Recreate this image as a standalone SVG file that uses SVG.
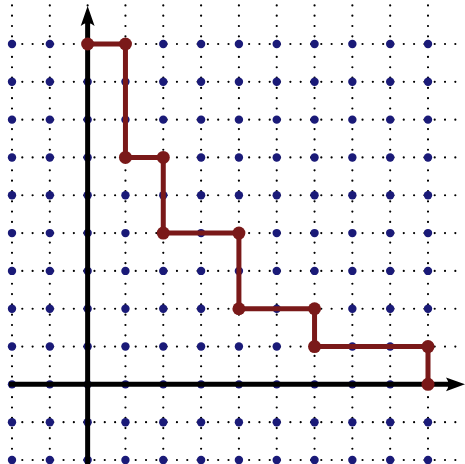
<svg xmlns="http://www.w3.org/2000/svg" xmlns:xlink="http://www.w3.org/1999/xlink" width="465" height="464" viewBox="0 0 465 464">
<style>
.dot{stroke:#000;stroke-width:2.2;stroke-linecap:round;stroke-dasharray:0 10.31;fill:none}
.g{fill:#1a1a78}
.axis{stroke:#000;stroke-width:5;fill:none}
.path{stroke:#7a1919;stroke-width:5;fill:none;stroke-linejoin:round}
.rn{fill:#7a1919}
</style>
<defs>
<circle id="b" r="4.2" class="g"/>
<circle id="r" r="6.5" class="rn"/>
<g id="row">
<use xlink:href="#b" x="12"/><use xlink:href="#b" x="49.82"/><use xlink:href="#b" x="87.64"/><use xlink:href="#b" x="125.45"/><use xlink:href="#b" x="163.27"/><use xlink:href="#b" x="201.09"/><use xlink:href="#b" x="238.91"/><use xlink:href="#b" x="276.73"/><use xlink:href="#b" x="314.55"/><use xlink:href="#b" x="352.36"/><use xlink:href="#b" x="390.18"/><use xlink:href="#b" x="428"/>
</g>
</defs>
<g id="dotted-grid">
<path class="dot" d="M12 44H462M12 81.82H462M12 119.64H462M12 157.45H462M12 195.27H462M12 233.09H462M12 270.91H462M12 308.73H462M12 346.55H462M12 384.36H462M12 422.18H462M12 460H462"/>
<path class="dot" d="M12 5.4V464M49.82 5.4V464M87.64 5.4V464M125.45 5.4V464M163.27 5.4V464M201.09 5.4V464M238.91 5.4V464M276.73 5.4V464M314.55 5.4V464M352.36 5.4V464M390.18 5.4V464M428 5.4V464"/>
</g>
<g id="lattice-points">
<use xlink:href="#row" y="44"/><use xlink:href="#row" y="81.82"/><use xlink:href="#row" y="119.64"/><use xlink:href="#row" y="157.45"/><use xlink:href="#row" y="195.27"/><use xlink:href="#row" y="233.09"/><use xlink:href="#row" y="270.91"/><use xlink:href="#row" y="308.73"/><use xlink:href="#row" y="346.55"/><use xlink:href="#row" y="384.36"/><use xlink:href="#row" y="422.18"/><use xlink:href="#row" y="460"/>
</g>
<g id="axes">
<line class="axis" x1="9" y1="384.36" x2="455" y2="384.36"/>
<line class="axis" x1="87.64" y1="464" x2="87.64" y2="16"/>
<path d="M465 384.36 L446 377.4 Q451 384.36 446 391.3 Z" fill="#000"/>
<path d="M87.64 6 L80.7 26 Q87.64 20 94.6 26 Z" fill="#000"/>
</g>
<g id="lattice-path">
<path class="path" d="M87.64 44H125.45V157.45H163.27V233.09H238.91V308.73H314.55V346.55H428V384.36"/>
<use xlink:href="#r" x="87.64" y="44"/><use xlink:href="#r" x="125.45" y="44"/><use xlink:href="#r" x="125.45" y="157.45"/><use xlink:href="#r" x="163.27" y="157.45"/><use xlink:href="#r" x="163.27" y="233.09"/><use xlink:href="#r" x="238.91" y="233.09"/><use xlink:href="#r" x="238.91" y="308.73"/><use xlink:href="#r" x="314.55" y="308.73"/><use xlink:href="#r" x="314.55" y="346.55"/><use xlink:href="#r" x="428" y="346.55"/><use xlink:href="#r" x="428" y="384.36"/>
</g>
</svg>
